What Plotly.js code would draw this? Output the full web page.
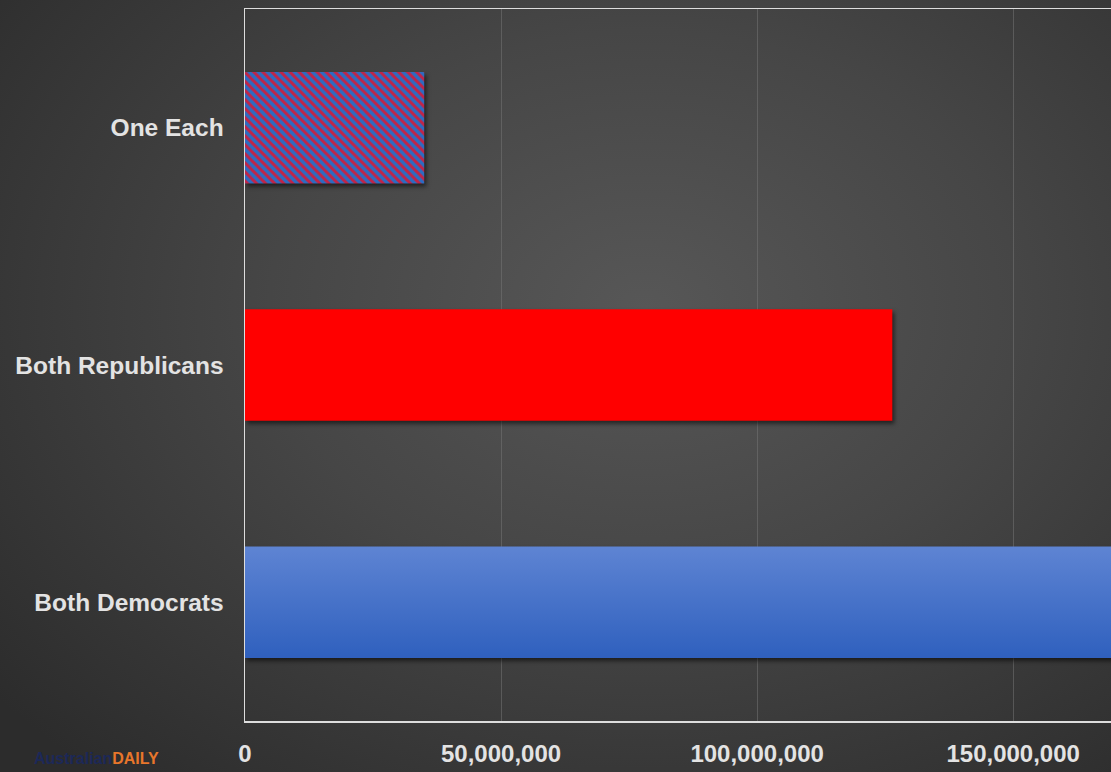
<!DOCTYPE html>
<html>
<head>
<meta charset="utf-8">
<script src="https://cdn.plot.ly/plotly-3.0.1.min.js"></script>
<style>
html,body{margin:0;padding:0;}
body{width:1111px;height:772px;overflow:hidden;
background:radial-gradient(ellipse 75% 80% at 58% 40%, #575757 0%, #464646 45%, #2c2c2c 100%);}
#chart{width:1111px;height:772px;}
#chart .trace.bars .point path{filter:drop-shadow(2px 3px 2px rgba(0,0,0,0.55));}
</style>
</head>
<body>
<div id="chart"></div>
<script>
// Data
var categories = ["Both Democrats", "Both Republicans", "One Each"];   // bottom to top
var partyCategories = ["Both Democrats", "Both Republicans"];
var partyValues = [175000000, 126400000];
var partyColors = ["#4674cc", "#ff0000"];
var splitCategories = ["One Each"];
var splitValues = [35000000];
var tickVals = [0, 50000000, 100000000, 150000000];
var tickText = ["0", "50,000,000", "100,000,000", "150,000,000"];

var partyTrace = {
  type: "bar", orientation: "h",
  y: partyCategories, x: partyValues,
  marker: {color: partyColors, line: {width: 0}},
  hoverinfo: "none"
};
var splitTrace = {
  type: "bar", orientation: "h",
  y: splitCategories, x: splitValues,
  marker: {
    color: "#2c6cc2", line: {width: 0},
    pattern: {shape: "\\", fgcolor: "#c22447", fgopacity: 1, size: 6.4, solidity: 0.47, fillmode: "overlay"}
  },
  hoverinfo: "none"
};

var layout = {
  width: 1111, height: 772,
  margin: {l: 245, r: 0, t: 9, b: 51},
  paper_bgcolor: "rgba(0,0,0,0)",
  plot_bgcolor: "rgba(0,0,0,0)",
  barmode: "overlay",
  bargap: 0.53,
  showlegend: false,
  font: {family: "Liberation Sans, Arial, sans-serif", color: "#e3e3e3"},
  xaxis: {
    range: [0, 169100000],
    tickvals: tickVals, ticktext: tickText,
    showgrid: true, gridcolor: "rgba(120,120,120,0.5)", gridwidth: 1,
    zeroline: false,
    showline: true, mirror: true, linecolor: "#dddddd", linewidth: 1.5,
    ticks: "", ticklabelstandoff: 11,
    tickfont: {size: 24, color: "#e3e3e3", family: "Liberation Sans, Arial, sans-serif", weight: "bold"}
  },
  yaxis: {
    type: "category", categoryorder: "array", categoryarray: categories,
    showgrid: false, zeroline: false,
    showline: true, linecolor: "#dddddd", linewidth: 1.5,
    ticks: "", ticklabelstandoff: 15,
    tickfont: {size: 24.5, color: "#e3e3e3", family: "Liberation Sans, Arial, sans-serif", weight: "bold"}
  },
  annotations: [{
    xref: "paper", yref: "paper", x: -0.246, y: -0.053, xanchor: "left", yanchor: "middle",
    showarrow: false,
    text: "<span style='color:#1c2858'>Australian</span><span style='color:#e8762b'>DAILY</span>",
    font: {size: 16, family: "Liberation Sans, Arial, sans-serif", weight: "bold"}
  }]
};

Plotly.newPlot("chart", [partyTrace, splitTrace], layout, {displayModeBar: false, staticPlot: true}).then(function (gd) {
  // vertical gradient on the "Both Democrats" bar
  var svg = gd.querySelector("svg.main-svg");
  var ns = "http://www.w3.org/2000/svg";
  var defs = svg.querySelector("defs") || svg.insertBefore(document.createElementNS(ns, "defs"), svg.firstChild);
  var lg = document.createElementNS(ns, "linearGradient");
  lg.setAttribute("id", "demGrad");
  lg.setAttribute("x1", "0"); lg.setAttribute("y1", "0");
  lg.setAttribute("x2", "0"); lg.setAttribute("y2", "1");
  [["0%", "#5e84d3"], ["100%", "#2f60be"]].forEach(function (s) {
    var st = document.createElementNS(ns, "stop");
    st.setAttribute("offset", s[0]); st.setAttribute("stop-color", s[1]);
    lg.appendChild(st);
  });
  defs.appendChild(lg);
  var paths = gd.querySelectorAll(".trace.bars .point path");
  if (paths.length) paths[0].style.fill = "url(#demGrad)";
});
</script>
</body>
</html>
